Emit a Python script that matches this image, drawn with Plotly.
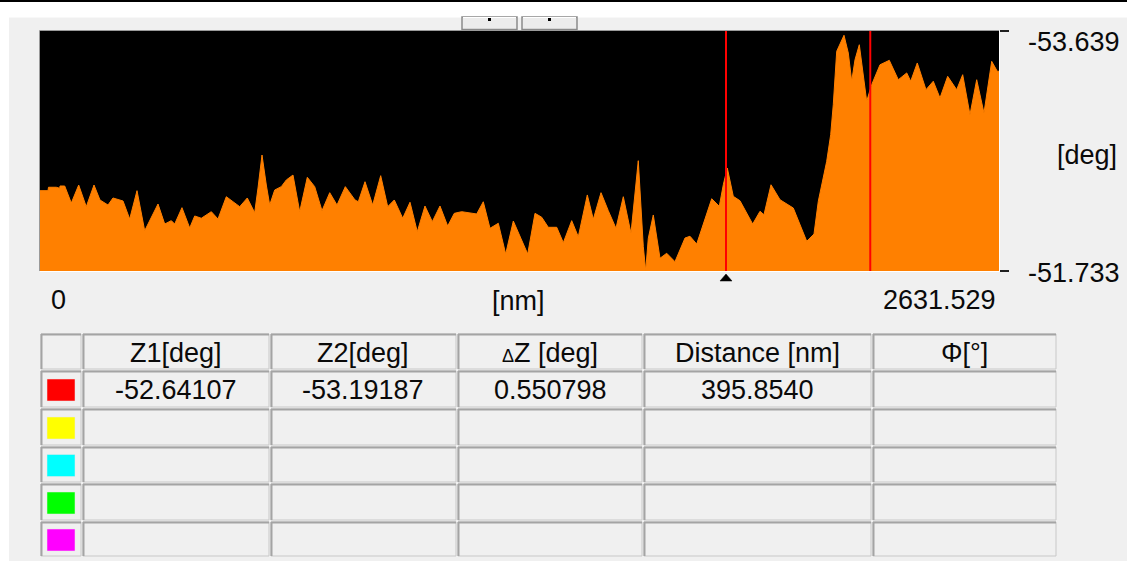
import plotly.graph_objects as go

W, H = 1127, 561

# ---- data ----
distance_nm = [0.0, 22.0, 23.3, 44.7, 54.1, 54.9, 67.8, 85.9, 106.2, 127.0, 148.2, 164.6, 186.6, 200.3,
               227.8, 246.1, 266.2, 287.3, 323.8, 342.2, 360.3, 369.6, 389.6, 410.8, 424.5, 442.6,
               470.1, 488.4, 511.2, 548.0, 568.8, 589.1, 598.2, 609.2, 621.0, 630.3, 644.0, 662.1,
               675.9, 694.2, 712.6, 733.5, 753.8, 773.8, 795.0, 815.0, 837.8, 864.4, 873.4, 891.8,
               912.9, 934.9, 954.1, 972.2, 995.3, 1015.3, 1035.3, 1056.4, 1076.5, 1097.6, 1118.7,
               1136.8, 1157.1, 1198.3, 1216.4, 1234.8, 1257.6, 1277.9, 1298.8, 1338.3, 1358.3,
               1376.7, 1394.8, 1417.9, 1436.0, 1459.0, 1477.1, 1501.8, 1518.3, 1539.4, 1559.4,
               1580.5, 1600.6, 1621.7, 1641.7, 1655.5, 1662.1, 1669.2, 1682.9, 1701.3, 1719.7,
               1742.4, 1769.9, 1783.6, 1802.0, 1820.1, 1843.2, 1864.0, 1875.0, 1886.0, 1902.4,
               1920.8, 1955.6, 1975.7, 1986.6, 2005.9, 2030.6, 2067.1, 2103.9, 2123.9, 2135.7,
               2158.7, 2169.7, 2176.8, 2186.2, 2206.2, 2218.0, 2227.3, 2236.4, 2248.2, 2268.5,
               2282.2, 2305.0, 2330.5, 2355.2, 2378.3, 2389.2, 2407.3, 2431.2, 2451.2, 2469.6,
               2490.7, 2515.4, 2531.9, 2551.9, 2570.3, 2590.3, 2611.5, 2626.8, 2631.529]
value_deg = [-52.371, -52.371, -52.398, -52.398, -52.390, -52.408, -52.408, -52.273, -52.416, -52.244,
             -52.416, -52.297, -52.257, -52.313, -52.289, -52.146, -52.371, -52.053, -52.265, -52.106,
             -52.133, -52.106, -52.236, -52.075, -52.170, -52.152, -52.204, -52.146, -52.323, -52.244,
             -52.313, -52.196, -52.392, -52.654, -52.416, -52.257, -52.376, -52.403, -52.456, -52.495,
             -52.204, -52.477, -52.403, -52.212, -52.355, -52.257, -52.403, -52.297, -52.283, -52.442,
             -52.257, -52.490, -52.244, -52.297, -52.152, -52.279, -52.045, -52.249, -52.125, -52.249,
             -52.090, -52.191, -52.204, -52.186, -52.283, -52.072, -52.112, -51.868, -52.130, -51.868,
             -52.191, -52.160, -52.080, -52.080, -51.958, -52.133, -52.005, -52.337, -52.144, -52.355,
             -52.212, -52.072, -52.323, -52.032, -52.609, -51.926, -51.735, -51.993, -52.178, -51.834,
             -51.874, -51.807, -51.995, -52.009, -51.947, -52.101, -52.307, -52.247, -52.418, -52.551,
             -52.326, -52.291, -52.106, -52.207, -52.180, -52.418, -52.299, -52.233, -51.969, -52.027,
             -52.287, -52.604, -52.816, -53.054, -53.478, -53.605, -53.464, -53.240, -53.411, -53.530,
             -53.081, -53.213, -53.371, -53.406, -53.252, -53.306, -53.240, -53.385, -53.173, -53.240,
             -53.107, -53.279, -53.173, -53.292, -52.974, -53.252, -52.988, -53.398, -53.319, -53.319]

x_min, x_max = 0.0, 2631.529
y_bottom, y_top = -51.733, -53.639
x_tick_labels = ["0", "[nm]", "2631.529"]
y_tick_labels = ["-53.639", "[deg]", "-51.733"]
cursor_nm = [1882.4, 2278.25]

table_headers = ["Z1[deg]", "Z2[deg]", "<span style='font-size:18px'>Δ</span>Z [deg]", "Distance [nm]", "Φ[°]"]
row1_values = ["-52.64107", "-53.19187", "0.550798", "395.8540", ""]
marker_colors = ["#ff0000", "#ffff00", "#00ffff", "#00ff00", "#ff00ff"]

# ---- layout geometry (pixels) ----
PLOT_L, PLOT_R, PLOT_T, PLOT_B = 40, 999, 31, 271
COL_EDGES = [40, 82, 270, 457, 643, 872, 1057]
ROW_EDGES = [333, 370, 408, 446, 483, 521, 557]
FONT = "Liberation Sans, Arial, sans-serif"
TXT = "#0a0a0a"
FS = 27


def px(x):
    return x / W


def py(y):
    return 1 - y / H


fig = go.Figure()

fig.add_trace(go.Scatter(
    x=distance_nm, y=value_deg, mode="lines",
    line=dict(color="#ff8000", width=1),
    fill="tozeroy", fillcolor="#ff8000",
    hoverinfo="skip", showlegend=False,
))

shapes = []
# backgrounds: white strips on top/left, black rule at the very top
shapes.append(dict(type="rect", xref="paper", yref="paper", x0=0, x1=1, y0=py(17.5), y1=1,
                   fillcolor="#ffffff", line=dict(width=0), layer="below"))
shapes.append(dict(type="rect", xref="paper", yref="paper", x0=0, x1=px(9), y0=0, y1=1,
                   fillcolor="#ffffff", line=dict(width=0), layer="below"))
shapes.append(dict(type="rect", xref="paper", yref="paper", x0=0, x1=1, y0=py(2), y1=1,
                   fillcolor="#000000", line=dict(width=0), layer="below"))
# small toolbar buttons
for bx0, bx1 in [(462, 517), (522, 577)]:
    shapes.append(dict(type="rect", xref="paper", yref="paper", x0=px(bx0), x1=px(bx1), y0=py(29.5), y1=py(17),
                       fillcolor="#ececec", line=dict(color="#8a8a8a", width=1.5)))
    shapes.append(dict(type="line", xref="paper", yref="paper", x0=px(bx0 + 1), x1=px(bx1 - 1), y0=py(17.5), y1=py(17.5),
                       line=dict(color="#ffffff", width=1)))
    cx = (bx0 + bx1) / 2
    shapes.append(dict(type="rect", xref="paper", yref="paper", x0=px(cx - 1.5), x1=px(cx + 1.5), y0=py(21), y1=py(18),
                       fillcolor="#000000", line=dict(width=0)))
# sunken border of the plot
shapes.append(dict(type="line", xref="paper", yref="paper", x0=px(PLOT_L - 0.5), x1=px(PLOT_R), y0=py(PLOT_T - 0.5), y1=py(PLOT_T - 0.5),
                   line=dict(color="#9a9a9a", width=1)))
shapes.append(dict(type="line", xref="paper", yref="paper", x0=px(PLOT_L - 0.5), x1=px(PLOT_L - 0.5), y0=py(PLOT_B), y1=py(PLOT_T - 0.5),
                   line=dict(color="#9a9a9a", width=1)))
shapes.append(dict(type="line", xref="paper", yref="paper", x0=px(PLOT_L), x1=px(PLOT_R + 0.5), y0=py(PLOT_B + 0.5), y1=py(PLOT_B + 0.5),
                   line=dict(color="#ffffff", width=1)))
shapes.append(dict(type="line", xref="paper", yref="paper", x0=px(PLOT_R + 0.5), x1=px(PLOT_R + 0.5), y0=py(PLOT_B + 0.5), y1=py(PLOT_T),
                   line=dict(color="#ffffff", width=1)))
# cursor lines
for c in cursor_nm:
    shapes.append(dict(type="line", xref="x", yref="y domain", x0=c, x1=c, y0=0, y1=1,
                       line=dict(color="#ff0000", width=2)))
# cursor marker (triangle) below the axis, at the first cursor
half_w_nm = 6 * (x_max - x_min) / (PLOT_R - PLOT_L)
c0 = cursor_nm[0]
shapes.append(dict(type="path", xref="x", yref="paper",
                   path=f"M {c0 - half_w_nm},{py(281)} L {c0 + half_w_nm},{py(281)} L {c0},{py(274)} Z",
                   fillcolor="#000000", line=dict(color="#000000", width=0.5)))

# table cells
for r in range(len(ROW_EDGES) - 1):
    for c in range(len(COL_EDGES) - 1):
        x0, x1 = COL_EDGES[c], COL_EDGES[c + 1]
        y0, y1 = ROW_EDGES[r], ROW_EDGES[r + 1]
        shapes.append(dict(type="rect", xref="paper", yref="paper",
                           x0=px(x0 + 1), x1=px(x1 - 1), y0=py(y1 - 1), y1=py(y0 + 1),
                           fillcolor="rgba(0,0,0,0)", line=dict(color="#c8c8c8", width=1)))
        shapes.append(dict(type="line", xref="paper", yref="paper", x0=px(x0 + 1), x1=px(x1 - 1), y0=py(y0 + 1.5), y1=py(y0 + 1.5),
                           line=dict(color="#a4a4a4", width=2)))
        shapes.append(dict(type="line", xref="paper", yref="paper", x0=px(x0 + 1.5), x1=px(x0 + 1.5), y0=py(y1 - 1), y1=py(y0 + 1),
                           line=dict(color="#a4a4a4", width=2)))
# colour swatches
for i, col in enumerate(marker_colors):
    r = i + 1
    yc = (ROW_EDGES[r] + ROW_EDGES[r + 1]) / 2 + 1
    shapes.append(dict(type="rect", xref="paper", yref="paper", x0=px(47), x1=px(75), y0=py(yc + 11), y1=py(yc - 11),
                       fillcolor=col, line=dict(color="#e8e8e8", width=0.5)))

annotations = []
def add_text(text, xc, yc, xanchor="center", size=FS):
    annotations.append(dict(text=text, xref="paper", yref="paper", x=px(xc), y=py(yc),
                            xanchor=xanchor, yanchor="middle", showarrow=False,
                            font=dict(family=FONT, size=size, color=TXT)))

add_text(y_tick_labels[0], 1026, 42, "left")
add_text(y_tick_labels[1], 1055, 155, "left")
add_text(y_tick_labels[2], 1026, 273, "left")
add_text(x_tick_labels[0], 49, 300, "left")
add_text(x_tick_labels[1], 518, 301, "center")
add_text(x_tick_labels[2], 998, 300, "right")

for c, txt in enumerate(table_headers):
    xc = (COL_EDGES[c + 1] + COL_EDGES[c + 2]) / 2
    add_text(txt, xc, (ROW_EDGES[0] + ROW_EDGES[1]) / 2 + 1)
for c, txt in enumerate(row1_values):
    if txt:
        xc = (COL_EDGES[c + 1] + COL_EDGES[c + 2]) / 2
        add_text(txt, xc, (ROW_EDGES[1] + ROW_EDGES[2]) / 2 + 1)

fig.update_layout(
    width=W, height=H,
    margin=dict(l=0, r=0, t=0, b=0),
    paper_bgcolor="#f0f0f0",
    plot_bgcolor="#000000",
    showlegend=False,
    shapes=shapes,
    annotations=annotations,
    xaxis=dict(domain=[px(PLOT_L), px(PLOT_R)], range=[x_min, x_max],
               showgrid=False, zeroline=False, showticklabels=False, ticks="", showline=False, fixedrange=True),
    yaxis=dict(domain=[py(PLOT_B), py(PLOT_T)], range=[y_bottom, y_top], side="right",
               tickvals=[y_top, y_bottom], ticks="outside", ticklen=9, tickwidth=1.5, tickcolor="#202020",
               showgrid=False, zeroline=False, showticklabels=False, showline=False, fixedrange=True),
)

fig.write_html("out.html", config={"displayModeBar": False},
               post_script="document.body.style.margin='0';document.body.style.overflow='hidden';")
